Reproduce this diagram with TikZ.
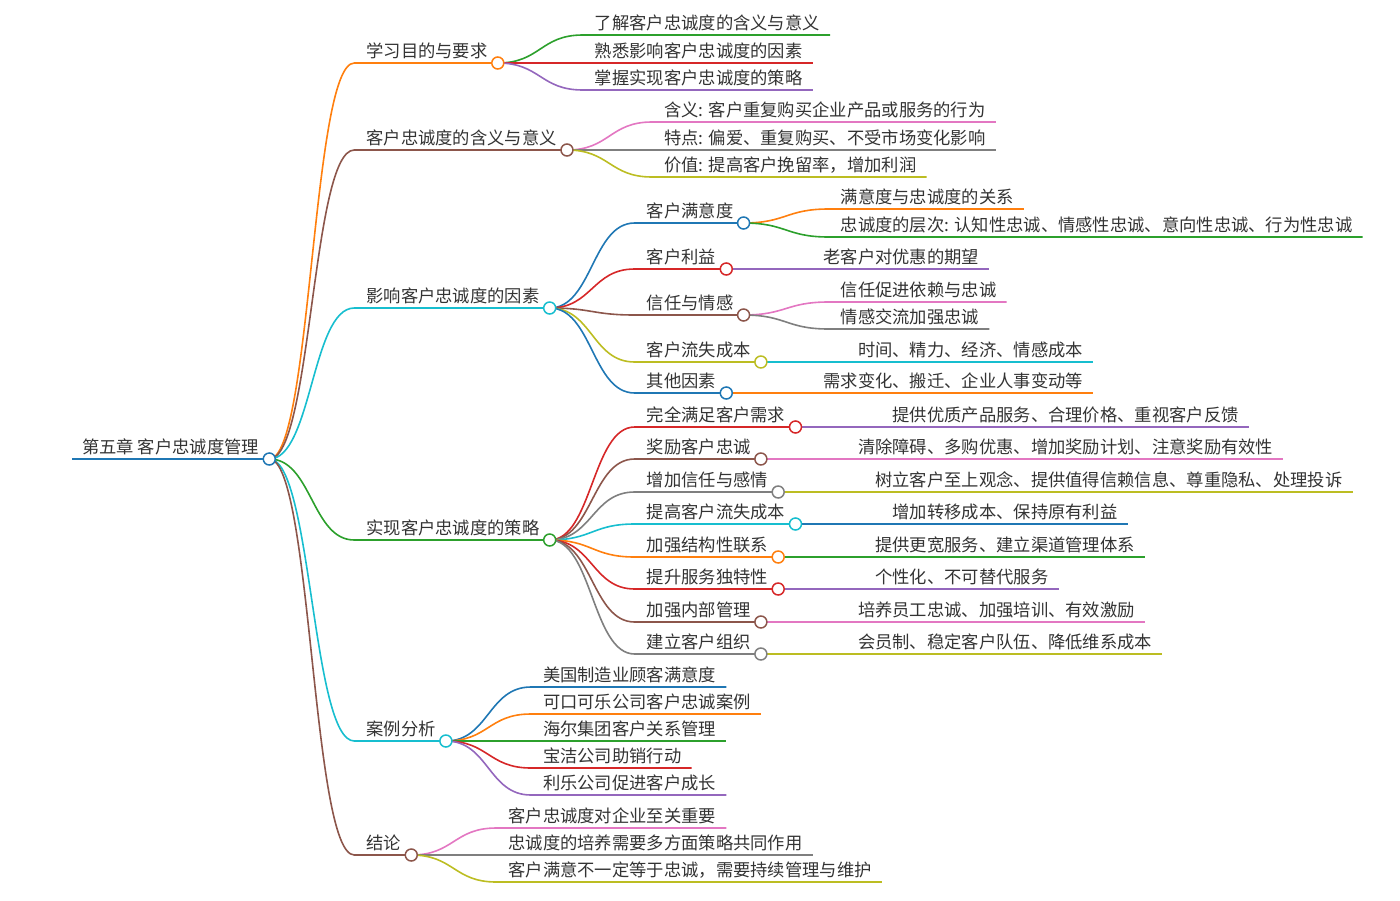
\documentclass[tikz,border=0pt]{standalone}
\usepackage{fontspec}
\newfontfamily\mmcjk[Script=CJK]{Noto Sans CJK SC}
\usetikzlibrary{calc}

\definecolor{mmblue}{HTML}{1F77B4}
\definecolor{mmorange}{HTML}{FF7F0E}
\definecolor{mmgreen}{HTML}{2CA02C}
\definecolor{mmred}{HTML}{D62728}
\definecolor{mmpurple}{HTML}{9467BD}
\definecolor{mmbrown}{HTML}{8C564B}
\definecolor{mmpink}{HTML}{E377C2}
\definecolor{mmgray}{HTML}{7F7F7F}
\definecolor{mmolive}{HTML}{BCBD22}
\definecolor{mmcyan}{HTML}{17BECF}
\definecolor{mmink}{HTML}{333333}

\pgfdeclarelayer{bg}
\pgfsetlayers{bg,main}

\tikzset{
  mmtext/.style={inner sep=0pt, text=mmink, font=\mmcjk\fontsize{17.3pt}{20pt}\selectfont},
  mmline/.style={draw=#1, line width=1.6pt},
  mmdot/.style={circle, draw=#1, fill=white, line width=1.5pt, minimum size=12pt, inner sep=0pt},
}

% child of a branch: name, parent, colour, y (px), text
\newcommand{\mmkid}[5]{%
  \path let \p1=(#2-r) in (\x1+85pt,-#4pt) coordinate (#1-l);
  \node[mmtext, anchor=base west] (#1) at ([xshift=12pt,yshift=6pt]#1-l) {#5};
  \coordinate (#1-r) at ([xshift=10pt]#1.east |- #1-l);
  \begin{pgfonlayer}{bg}
    \draw[mmline=#3] (#2-r) .. controls +(42.5pt,0) and +(-42.5pt,0) .. (#1-l) -- (#1-r);
  \end{pgfonlayer}
}
% knob at the end of a branch with children
\newcommand{\mmknob}[2]{\node[mmdot=#2] (#1-o) at (#1-r) {};}

\begin{document}
\begin{tikzpicture}[x=1pt,y=-1pt]
  \useasboundingbox (0,0) rectangle (1400,900);

  % root
  \coordinate (root-l) at (72,459);
  \node[mmtext, anchor=base west] (root) at ([xshift=10pt,yshift=6pt]root-l) {第五章 客户忠诚度管理};
  \coordinate (root-r) at ([xshift=10pt]root.east |- root-l);
  \begin{pgfonlayer}{bg}
    \draw[mmline=mmblue] (root-l) -- (root-r);
  \end{pgfonlayer}

  % main branches
  \mmkid{learn}{root}{mmorange}{63}{学习目的与要求}
  \mmkid{mean}{root}{mmbrown}{150}{客户忠诚度的含义与意义}
  \mmkid{factor}{root}{mmcyan}{308}{影响客户忠诚度的因素}
  \mmkid{plan}{root}{mmgreen}{540}{实现客户忠诚度的策略}
  \mmkid{case}{root}{mmcyan}{741}{案例分析}
  \mmkid{sum}{root}{mmbrown}{855}{结论}

  % learning goals
  \mmkid{learnA}{learn}{mmgreen}{35}{了解客户忠诚度的含义与意义}
  \mmkid{learnB}{learn}{mmred}{63}{熟悉影响客户忠诚度的因素}
  \mmkid{learnC}{learn}{mmpurple}{90}{掌握实现客户忠诚度的策略}

  % meaning
  \mmkid{meanA}{mean}{mmpink}{122}{含义: 客户重复购买企业产品或服务的行为}
  \mmkid{meanB}{mean}{mmgray}{150}{特点: 偏爱、重复购买、不受市场变化影响}
  \mmkid{meanC}{mean}{mmolive}{177}{价值: 提高客户挽留率，增加利润}

  % factors
  \mmkid{sat}{factor}{mmblue}{223}{客户满意度}
  \mmkid{gain}{factor}{mmred}{269}{客户利益}
  \mmkid{trust}{factor}{mmbrown}{315}{信任与情感}
  \mmkid{loss}{factor}{mmolive}{362}{客户流失成本}
  \mmkid{other}{factor}{mmblue}{393}{其他因素}
  \mmkid{satA}{sat}{mmorange}{209}{满意度与忠诚度的关系}
  \mmkid{satB}{sat}{mmgreen}{237}{忠诚度的层次: 认知性忠诚、情感性忠诚、意向性忠诚、行为性忠诚}
  \mmkid{gainA}{gain}{mmpurple}{269}{老客户对优惠的期望}
  \mmkid{trustA}{trust}{mmpink}{302}{信任促进依赖与忠诚}
  \mmkid{trustB}{trust}{mmgray}{329}{情感交流加强忠诚}
  \mmkid{lossA}{loss}{mmcyan}{362}{时间、精力、经济、情感成本}
  \mmkid{otherA}{other}{mmorange}{393}{需求变化、搬迁、企业人事变动等}

  % strategies
  \mmkid{planA}{plan}{mmred}{427}{完全满足客户需求}
  \mmkid{planB}{plan}{mmbrown}{459}{奖励客户忠诚}
  \mmkid{planC}{plan}{mmgray}{492}{增加信任与感情}
  \mmkid{planD}{plan}{mmcyan}{524}{提高客户流失成本}
  \mmkid{planE}{plan}{mmorange}{557}{加强结构性联系}
  \mmkid{planF}{plan}{mmred}{589}{提升服务独特性}
  \mmkid{planG}{plan}{mmbrown}{622}{加强内部管理}
  \mmkid{planH}{plan}{mmgray}{654}{建立客户组织}
  \mmkid{planAx}{planA}{mmpurple}{427}{提供优质产品服务、合理价格、重视客户反馈}
  \mmkid{planBx}{planB}{mmpink}{459}{清除障碍、多购优惠、增加奖励计划、注意奖励有效性}
  \mmkid{planCx}{planC}{mmolive}{492}{树立客户至上观念、提供值得信赖信息、尊重隐私、处理投诉}
  \mmkid{planDx}{planD}{mmblue}{524}{增加转移成本、保持原有利益}
  \mmkid{planEx}{planE}{mmgreen}{557}{提供更宽服务、建立渠道管理体系}
  \mmkid{planFx}{planF}{mmpurple}{589}{个性化、不可替代服务}
  \mmkid{planGx}{planG}{mmpink}{622}{培养员工忠诚、加强培训、有效激励}
  \mmkid{planHx}{planH}{mmolive}{654}{会员制、稳定客户队伍、降低维系成本}

  % cases
  \mmkid{caseA}{case}{mmblue}{687}{美国制造业顾客满意度}
  \mmkid{caseB}{case}{mmorange}{714}{可口可乐公司客户忠诚案例}
  \mmkid{caseC}{case}{mmgreen}{741}{海尔集团客户关系管理}
  \mmkid{caseD}{case}{mmred}{768}{宝洁公司助销行动}
  \mmkid{caseE}{case}{mmpurple}{795}{利乐公司促进客户成长}

  % conclusion
  \mmkid{sumA}{sum}{mmpink}{828}{客户忠诚度对企业至关重要}
  \mmkid{sumB}{sum}{mmgray}{855}{忠诚度的培养需要多方面策略共同作用}
  \mmkid{sumC}{sum}{mmolive}{882}{客户满意不一定等于忠诚，需要持续管理与维护}

  % knobs
  \mmknob{root}{mmblue}
  \mmknob{learn}{mmorange}
  \mmknob{mean}{mmbrown}
  \mmknob{factor}{mmcyan}
  \mmknob{plan}{mmgreen}
  \mmknob{case}{mmcyan}
  \mmknob{sum}{mmbrown}
  \mmknob{sat}{mmblue}
  \mmknob{gain}{mmred}
  \mmknob{trust}{mmbrown}
  \mmknob{loss}{mmolive}
  \mmknob{other}{mmblue}
  \mmknob{planA}{mmred}
  \mmknob{planB}{mmbrown}
  \mmknob{planC}{mmgray}
  \mmknob{planD}{mmcyan}
  \mmknob{planE}{mmorange}
  \mmknob{planF}{mmred}
  \mmknob{planG}{mmbrown}
  \mmknob{planH}{mmgray}
\end{tikzpicture}
\end{document}
